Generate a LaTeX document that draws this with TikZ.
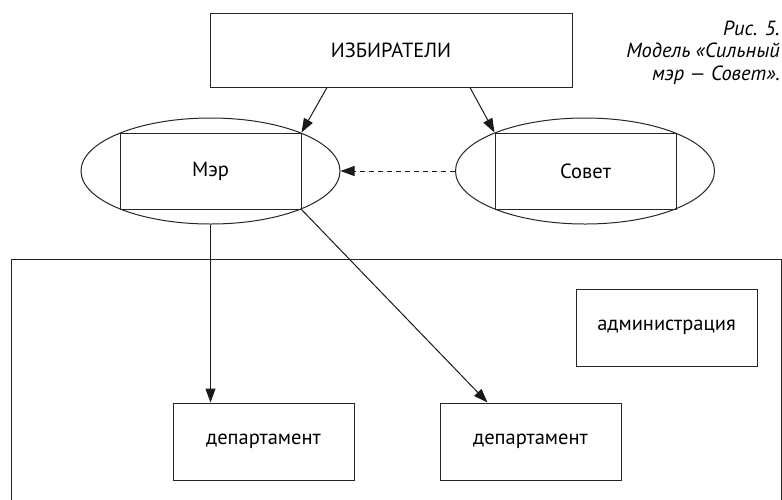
\documentclass[tikz,border=0pt]{standalone}
\usepackage{fontspec}
\setmainfont{PT Sans}
\usetikzlibrary{arrows.meta,shapes.geometric}
\begin{document}
\begin{tikzpicture}[x=1pt,y=-1pt,
  box/.style={draw=black!85, line width=1pt, rectangle, inner sep=0pt,
    minimum width=181pt, minimum height=77pt, font=\fontsize{20.5}{24}\selectfont},
  oval/.style={draw=black!85, line width=1pt, ellipse, inner sep=0pt,
    minimum width=259pt, minimum height=106pt},
  arr/.style={draw=black!90, line width=1pt, -{Triangle[length=14pt,width=10pt]}},
  caption/.style={align=right, inner sep=0pt, anchor=base east,
    font=\fontsize{20.5}{22.5}\selectfont\itshape}
]
\useasboundingbox (0,0) rectangle (782,499);
\begin{scope}
  \clip (0,0) rectangle (782,499);
  \draw[black!85, line width=1pt] (11,530) -- (11,259) -- (781.5,259) -- (781.5,530);
\end{scope}

\node[box, minimum width=362pt, minimum height=74pt] (voters) at (391,50) {ИЗБИРАТЕЛИ};
\node[oval] (mayorE) at (210.5,171) {};
\node[box, minimum height=76pt] (mayor) at (210.5,171) {Мэр};
\node[oval] (councilE) at (585,171) {};
\node[box, minimum height=76pt] (council) at (585.5,171) {Совет};
\node[box] (admin) at (666.5,327.5) {администрация};
\node[box] (dep1) at (263.5,441.5) {департамент};
\node[box] (dep2) at (530.5,441.5) {департамент};

\node[caption] (cap) at (780,80) {Рис. 5.\\Модель «Сильный\\мэр — Совет».};

\draw[arr] ([xshift=-64pt]voters.south) -- (mayor.north east);
\draw[arr] ([xshift=79pt]voters.south) -- (council.north west);
\draw[arr, dash pattern=on 5pt off 4pt] (councilE.west) -- (mayorE.east);
\draw[arr] (mayorE.south) -- (mayorE.south |- dep1.north);
\draw[arr] (mayor.south east) -- ([xshift=-43pt]dep2.north);
\end{tikzpicture}
\end{document}
